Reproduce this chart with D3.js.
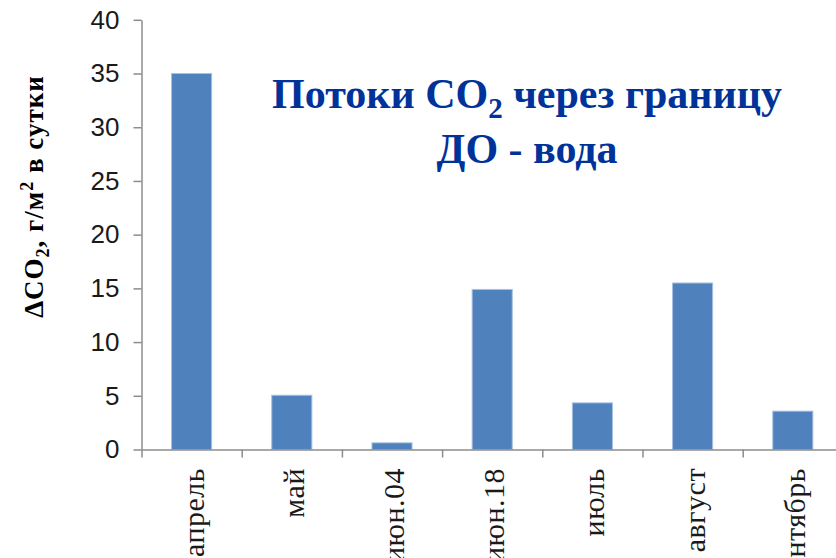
<!DOCTYPE html>
<html>
<head>
<meta charset="utf-8">
<script src="https://cdn.jsdelivr.net/npm/d3@7"></script>
<style>
  html, body { margin: 0; padding: 0; background: #fff; }
  svg { display: block; }
</style>
</head>
<body>
<svg id="chart" width="836" height="558"></svg>
<script>
// CO2 flux across the sediment-water boundary, g/m² per day
const categories = ["апрель", "май", "июн.04", "июн.18", "июль", "август", "сентябрь"];
const values = [35.0, 5.05, 0.62, 14.9, 4.34, 15.5, 3.57];
const yTicks = [0, 5, 10, 15, 20, 25, 30, 35, 40];

const svg = d3.select("#chart");

const left = 141.5, step = 100.2;
const y0 = 449.5, yTop = 19.8;

const x = d3.scaleBand()
  .domain(categories)
  .range([left, left + step * categories.length])
  .paddingInner(0.6)
  .paddingOuter(0.3);

// boundary positions between categories
const xb = d3.scaleLinear().domain([0, categories.length]).range(x.range());

const y = d3.scaleLinear().domain([0, 40]).range([y0, yTop]);

const axisColor = "#8c8c8c";

// Bars
svg.append("g")
  .selectAll("rect")
  .data(values)
  .join("rect")
  .attr("x", (d, i) => x(categories[i]))
  .attr("y", d => y(d))
  .attr("width", x.bandwidth())
  .attr("height", d => y(0) - y(d))
  .attr("fill", "#4f81bd")
  .attr("stroke", "#a7c0df")
  .attr("stroke-width", 1);

// Y axis
const yAxis = svg.append("g")
  .attr("transform", `translate(${left},0)`)
  .call(d3.axisLeft(y).tickValues(yTicks).tickSize(8).tickSizeOuter(0).tickPadding(14));
yAxis.select(".domain").attr("stroke", axisColor).attr("stroke-width", 1.5);
yAxis.selectAll(".tick line").attr("stroke", axisColor).attr("stroke-width", 1.5);
yAxis.selectAll(".tick text")
  .attr("font-family", "'Liberation Sans', Arial, sans-serif")
  .attr("font-size", 26)
  .attr("fill", "#1a1a1a");

// X axis (ticks at category boundaries)
const xAxis = svg.append("g")
  .attr("transform", `translate(0,${y0})`)
  .call(d3.axisBottom(xb).tickValues(d3.range(categories.length + 1)).tickFormat("").tickSize(8).tickSizeOuter(0));
xAxis.select(".domain").attr("stroke", axisColor).attr("stroke-width", 1.5);
xAxis.selectAll(".tick line").attr("stroke", axisColor).attr("stroke-width", 1.5);

// Category labels, rotated
svg.append("g")
  .selectAll("text")
  .data(categories)
  .join("text")
  .attr("transform", d => `translate(${x(d) + x.bandwidth() / 2 + 12},468) rotate(-90)`)
  .attr("text-anchor", "end")
  .attr("font-family", "'Liberation Serif', 'Times New Roman', serif")
  .attr("font-size", 30)
  .attr("letter-spacing", 0.5)
  .attr("fill", "#1a1a1a")
  .text(d => d);

// Y axis title
const yt = svg.append("text")
  .attr("transform", "translate(43,196.5) rotate(-90)")
  .attr("text-anchor", "middle")
  .attr("font-family", "'Liberation Serif', 'Times New Roman', serif")
  .attr("font-weight", "bold")
  .attr("font-size", 27)
  .attr("letter-spacing", 1)
  .attr("fill", "#000");
yt.append("tspan").text("ΔCO");
yt.append("tspan").attr("font-size", 18).attr("dy", 6).text("2");
yt.append("tspan").attr("dy", -6).text(", г/м");
yt.append("tspan").attr("font-size", 18).attr("dy", -10).text("2");
yt.append("tspan").attr("dy", 10).text(" в сутки");

// Chart title
const titleColor = "#003399";
const t1 = svg.append("text")
  .attr("x", 527).attr("y", 107.5)
  .attr("text-anchor", "middle")
  .attr("font-family", "'Liberation Serif', 'Times New Roman', serif")
  .attr("font-weight", "bold")
  .attr("font-size", 42)
  .attr("fill", titleColor);
t1.append("tspan").text("Потоки CO");
t1.append("tspan").attr("font-size", 29).attr("dy", 10).text("2");
t1.append("tspan").attr("dy", -10).text(" через границу");

svg.append("text")
  .attr("x", 527).attr("y", 163)
  .attr("text-anchor", "middle")
  .attr("font-family", "'Liberation Serif', 'Times New Roman', serif")
  .attr("font-weight", "bold")
  .attr("font-size", 42)
  .attr("fill", titleColor)
  .text("ДО - вода");
</script>
</body>
</html>
